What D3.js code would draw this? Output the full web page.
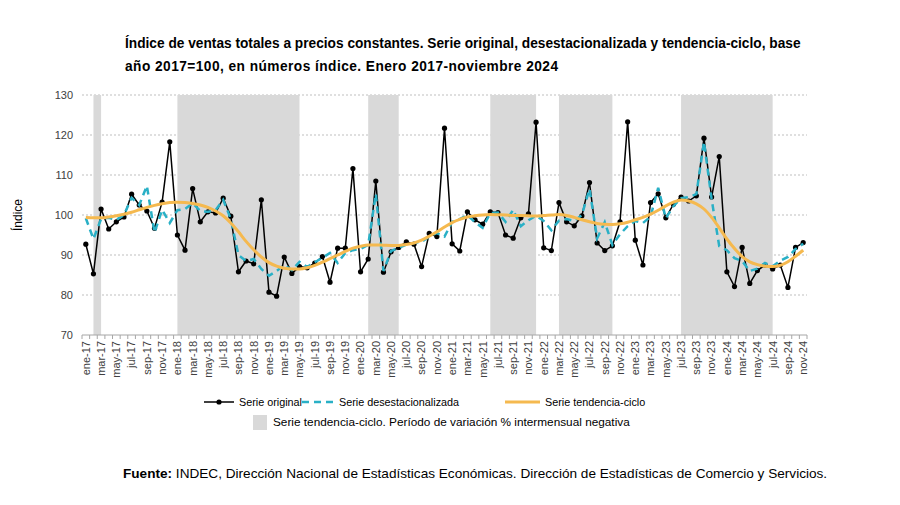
<!DOCTYPE html>
<html><head><meta charset="utf-8">
<script src="https://cdn.jsdelivr.net/npm/d3@7"></script>
<style>
body{margin:0;background:#fff;}
svg{display:block;font-family:"Liberation Sans",Arial,sans-serif;}
</style></head>
<body><svg id="c" width="900" height="505"></svg>
<script>
const monthAbbr = ["ene","feb","mar","abr","may","jun","jul","ago","sep","oct","nov","dic"];
const years = ["17","18","19","20","21","22","23","24"];
const categories = [];
years.forEach(y => monthAbbr.forEach(m => categories.push(m + "-" + y)));
categories.splice(95); // ene-17 .. nov-24

const original = [
92.7, 85.3, 101.5, 96.5, 98.3, 99.5, 105.2, 102.5, 101.0, 96.7, 103.2, 118.3,
95.0, 91.2, 106.6, 98.3, 100.8, 100.5, 104.2, 99.7, 85.8, 88.5, 87.8, 103.8,
80.7, 79.7, 89.5, 85.4, 87.1, 86.8, 88.0, 89.6, 83.2, 91.7, 91.7, 111.6,
85.8, 89.0, 108.5, 85.7, 90.8, 91.9, 93.3, 92.7, 87.1, 95.4, 94.6, 121.7,
92.8, 91.0, 100.8, 98.8, 97.7, 100.8, 100.6, 95.0, 94.2, 99.3, 100.3, 123.2,
91.8, 91.1, 103.1, 98.3, 97.3, 99.8, 108.1, 93.0, 91.1, 92.3, 98.3, 123.3,
93.7, 87.5, 103.1, 105.3, 99.3, 102.7, 104.5, 103.5, 104.8, 119.2, 104.5, 114.6,
85.8, 82.1, 91.9, 82.9, 86.1, 87.5, 86.5, 87.5, 81.9, 91.9, 93.1];

const desestacionalizada = [
99.2, 94.0, 99.0, 99.3, 98.8, 100.0, 104.3, 102.5, 107.3, 95.6, 101.3, 98.0,
101.2, 101.5, 103.0, 101.0, 100.8, 101.2, 103.8, 99.0, 90.0, 88.5, 89.0, 86.5,
84.8, 86.0, 87.5, 86.2, 88.3, 87.0, 88.2, 89.3, 90.5, 88.0, 90.5, 91.2,
91.5, 92.5, 105.3, 86.0, 91.0, 91.8, 92.6, 93.0, 93.3, 94.6, 95.5, 94.6,
98.3, 99.0, 100.0, 98.2, 96.8, 100.5, 100.6, 98.3, 101.3, 97.2, 98.7, 99.8,
98.5, 96.2, 98.6, 99.0, 98.5, 100.0, 106.5, 94.2, 98.2, 92.5, 95.2, 97.2,
98.5, 98.0, 99.6, 106.8, 99.2, 102.2, 104.2, 104.5, 105.2, 118.3, 104.0, 92.2,
91.2, 89.2, 88.5, 86.0, 86.6, 88.0, 87.2, 88.6, 89.5, 91.5, 92.8];

const tendencia = [
99.4, 99.3, 99.3, 99.5, 99.8, 100.2, 100.7, 101.3, 101.9, 102.4, 102.8, 103.1,
103.2, 103.1, 102.9, 102.5, 101.9, 101.0, 99.8, 98.0, 95.8, 93.4, 91.3, 89.5,
88.1, 87.2, 86.7, 86.5, 86.5, 86.8, 87.4, 88.2, 89.1, 90.0, 90.9, 91.7,
92.2, 92.5, 92.5, 92.45, 92.4, 92.4, 92.6, 93.0, 93.7, 94.7, 95.8, 97.0,
98.1, 98.9, 99.5, 99.8, 100.0, 100.1, 100.05, 100.0, 99.9, 99.85, 99.8, 99.75,
99.85, 100.0, 100.1, 99.9, 99.4, 98.8, 98.3, 97.9, 97.7, 97.6, 97.8, 98.2,
98.8, 99.4, 100.2, 101.2, 102.3, 103.2, 103.75, 103.5, 102.8, 101.5, 99.4, 96.8,
94.0, 91.6, 89.6, 88.3, 87.6, 87.2, 87.1, 87.4, 88.3, 89.7, 91.2];

const shadeStart = ["feb-17","ene-18","feb-20","jun-21","mar-22","jul-23"];
const shadeEnd   = ["mar-17","may-19","jun-20","dic-21","oct-22","jul-24"];

const yTicks = [70, 80, 90, 100, 110, 120, 130];
const xLabels = categories.filter((d, i) => i % 2 === 0);

const svg = d3.select("#c");
const x = d3.scaleBand().domain(categories).range([82, 807]).paddingInner(0).paddingOuter(0);
const y = d3.scaleLinear().domain([70, 130]).range([335, 95]);
const cx = d => x(d) + x.bandwidth() / 2;

// title (font size fitted to the reference width)
const title = svg.append("g").attr("font-family", "'Liberation Sans Narrow','Arial Narrow',sans-serif")
  .attr("font-weight", "bold").attr("fill", "#000");
const t1 = title.append("text").attr("x", 125).attr("y", 48).attr("font-size", 16)
  .text("Índice de ventas totales a precios constantes. Serie original, desestacionalizada y tendencia-ciclo, base");
const t2 = title.append("text").attr("x", 125).attr("y", 71).attr("font-size", 16)
  .text("año 2017=100, en números índice. Enero 2017-noviembre 2024");
const w1 = t1.node().getComputedTextLength();
const fs = Math.min(17, 16 * 676 / w1);
t1.attr("font-size", fs);
t2.attr("font-size", fs);
const w2 = t2.node().getComputedTextLength();
if (w2 < 433) t2.attr("textLength", 433).attr("lengthAdjust", "spacing");

// gridlines
svg.append("g").selectAll("line").data(yTicks.filter(t => t > 70)).join("line")
  .attr("x1", 82).attr("x2", 807).attr("y1", d => y(d)).attr("y2", d => y(d))
  .attr("stroke", "#bfbfbf").attr("stroke-width", 1).attr("stroke-dasharray", "2,2");

// shaded bands
svg.append("g").selectAll("rect").data(shadeStart.map((s, i) => [s, shadeEnd[i]])).join("rect")
  .attr("x", d => cx(d[0])).attr("width", d => cx(d[1]) - cx(d[0]))
  .attr("y", y(130)).attr("height", y(70) - y(130)).attr("fill", "#d9d9d9");

// y axis labels
svg.append("g").selectAll("text").data(yTicks).join("text")
  .attr("x", 73).attr("y", d => y(d)).attr("dy", "0.35em").attr("text-anchor", "end")
  .attr("font-size", 11).attr("fill", "#404040").text(d => d);

svg.append("text").attr("transform", "translate(22,215) rotate(-90)").attr("text-anchor", "middle")
  .attr("font-size", 12).attr("fill", "#000").text("Índice");

// x axis
svg.append("line").attr("x1", 82).attr("x2", 807).attr("y1", y(70)).attr("y2", y(70))
  .attr("stroke", "#a6a6a6").attr("stroke-width", 1);
const edges = categories.map(d => x(d)).concat([x.range()[1]]);
svg.append("g").selectAll("line").data(edges).join("line")
  .attr("x1", d => d).attr("x2", d => d).attr("y1", y(70)).attr("y2", y(70) + 4)
  .attr("stroke", "#a6a6a6");
svg.append("g").selectAll("text").data(xLabels).join("text")
  .attr("transform", d => `translate(${cx(d)},${y(70) + 6}) rotate(-90)`)
  .attr("text-anchor", "end").attr("dy", "0.35em").attr("font-size", 11).attr("fill", "#404040")
  .text(d => d);

// series
const line = arr => d3.line().x((d, i) => cx(categories[i])).y(d => y(d))(arr);
svg.append("path").attr("d", line(original)).attr("fill", "none").attr("stroke", "#000").attr("stroke-width", 1.5);
svg.append("g").selectAll("circle").data(original).join("circle")
  .attr("cx", (d, i) => cx(categories[i])).attr("cy", d => y(d)).attr("r", 2.6).attr("fill", "#000");
svg.append("path").attr("d", line(desestacionalizada)).attr("fill", "none")
  .attr("stroke", "#29b0c6").attr("stroke-width", 2.5).attr("stroke-dasharray", "7,5");
svg.append("path").attr("d", d3.line().curve(d3.curveMonotoneX).x((d, i) => cx(categories[i])).y(d => y(d))(tendencia))
  .attr("fill", "none").attr("stroke", "#f5b94f").attr("stroke-width", 3);

// legend
const lg = svg.append("g").attr("font-size", 10.8).attr("fill", "#000");
lg.append("line").attr("x1", 204).attr("x2", 234).attr("y1", 402).attr("y2", 402).attr("stroke", "#000").attr("stroke-width", 1.5);
lg.append("circle").attr("cx", 219).attr("cy", 402).attr("r", 2.6).attr("fill", "#000");
lg.append("text").attr("x", 239).attr("y", 402).attr("dy", "0.35em").text("Serie original");
lg.append("line").attr("x1", 302).attr("x2", 334).attr("y1", 402).attr("y2", 402).attr("stroke", "#29b0c6").attr("stroke-width", 2.5).attr("stroke-dasharray", "7,5");
lg.append("text").attr("x", 339).attr("y", 402).attr("dy", "0.35em").text("Serie desestacionalizada");
lg.append("line").attr("x1", 505).attr("x2", 540).attr("y1", 402).attr("y2", 402).attr("stroke", "#f5b94f").attr("stroke-width", 3);
lg.append("text").attr("x", 545).attr("y", 402).attr("dy", "0.35em").text("Serie tendencia-ciclo");
lg.append("rect").attr("x", 253).attr("y", 415).attr("width", 14).attr("height", 15).attr("fill", "#d9d9d9");
lg.append("text").attr("x", 273).attr("y", 422).attr("dy", "0.35em").attr("font-size", 11.8).text("Serie tendencia-ciclo. Período de variación % intermensual negativa");

// source
const src = svg.append("text").attr("x", 123).attr("y", 473).attr("dy", "0.35em").attr("font-size", 13.6).attr("fill", "#000");
src.append("tspan").attr("font-weight", "bold").text("Fuente:");
src.append("tspan").text(" INDEC, Dirección Nacional de Estadísticas Económicas. Dirección de Estadísticas de Comercio y Servicios.");
</script></body></html>
